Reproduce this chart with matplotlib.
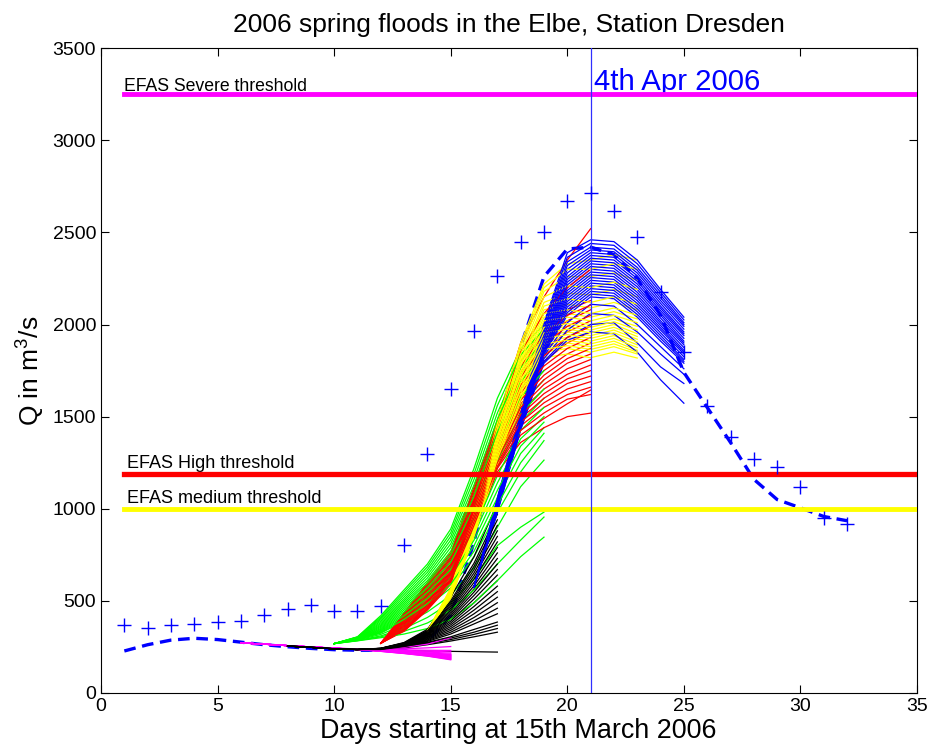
import matplotlib
matplotlib.use("Agg")
import matplotlib.pyplot as plt
import numpy as np

plt.rcParams['font.family'] = ['Liberation Sans', 'DejaVu Sans']
plt.rcParams['mathtext.default'] = 'regular'

# observed discharge (crosses), day 1..32
obs_days = list(range(1, 33))
obs_q = [369, 353, 369, 374, 385, 391, 423, 456, 477, 445, 445, 472,
         803, 1297, 1650, 1964, 2262, 2447, 2501, 2670, 2713, 2615, 2474, 2176,
         1850, 1557, 1389, 1270, 1226, 1118, 950, 917]

# simulated reference discharge (dashed), day 1..32
ref_days = list(range(1, 33))
ref_q = [228, 262, 287, 297, 290, 276, 262, 251, 242, 235, 232, 232,
         240, 280, 420, 820, 1370, 1880, 2260, 2410, 2420, 2380, 2250, 2050,
         1740, 1550, 1360, 1160, 1050, 1005, 958, 935]

# EFAS thresholds
severe_q = 3250
high_q = 1190
medium_q = 1000
forecast_day = 21

# ensemble forecasts, one row per member, 10 daily values from start day
magenta_start = 6
magenta_runs = [
    [272, 265, 257, 250, 243, 236, 226, 214, 200, 180],
    [272, 265, 257, 250, 243, 236, 227, 216, 203, 185],
    [272, 265, 257, 250, 243, 236, 228, 218, 206, 190],
    [272, 265, 257, 250, 243, 236, 229, 220, 209, 195],
    [272, 265, 257, 250, 243, 236, 230, 222, 212, 200],
    [272, 265, 257, 250, 243, 236, 231, 224, 215, 205],
    [272, 265, 257, 250, 243, 236, 232, 226, 218, 210],
    [272, 265, 257, 250, 243, 236, 233, 228, 222, 216],
    [272, 265, 257, 250, 243, 237, 234, 231, 227, 223],
    [272, 265, 257, 250, 243, 237, 236, 234, 232, 231],
    [272, 265, 257, 250, 244, 238, 238, 240, 245, 252],
    [272, 265, 257, 250, 244, 239, 241, 248, 265, 300],
    [272, 265, 257, 250, 243, 236, 226, 215, 201, 183],
    [272, 265, 257, 250, 243, 236, 228, 217, 205, 188],
    [272, 265, 257, 250, 243, 236, 229, 219, 208, 193],
    [272, 265, 257, 250, 243, 236, 230, 221, 211, 198],
    [272, 265, 257, 250, 243, 236, 231, 223, 214, 203],
    [272, 265, 257, 250, 243, 236, 232, 225, 217, 208],
]

black_start = 8
black_runs = [
    [255, 248, 240, 236, 233, 230, 228, 226, 224, 222],
    [255, 248, 240, 236, 235, 245, 262, 282, 305, 330],
    [255, 248, 240, 236, 236, 248, 267, 290, 318, 350],
    [255, 248, 240, 236, 237, 251, 272, 298, 330, 368],
    [255, 248, 240, 236, 238, 254, 280, 320, 375, 430],
    [255, 248, 240, 236, 238, 256, 288, 340, 410, 490],
    [255, 248, 240, 236, 239, 258, 296, 360, 450, 550],
    [255, 248, 240, 236, 239, 260, 303, 380, 490, 610],
    [255, 248, 240, 236, 240, 262, 310, 400, 530, 670],
    [255, 248, 240, 236, 240, 264, 316, 420, 565, 730],
    [255, 248, 240, 236, 241, 266, 322, 440, 600, 790],
    [255, 248, 240, 236, 241, 268, 328, 460, 635, 850],
    [255, 248, 240, 236, 242, 270, 334, 480, 670, 910],
    [255, 248, 240, 236, 242, 272, 340, 500, 705, 970],
    [255, 248, 240, 236, 243, 274, 346, 520, 740, 1030],
    [255, 248, 240, 236, 238, 255, 284, 330, 392, 460],
    [255, 248, 240, 236, 238, 257, 292, 350, 430, 520],
    [255, 248, 240, 236, 239, 259, 300, 370, 470, 580],
    [255, 248, 240, 236, 240, 261, 306, 390, 510, 640],
    [255, 248, 240, 236, 240, 263, 313, 410, 548, 700],
    [255, 248, 240, 236, 241, 265, 319, 430, 582, 760],
    [255, 248, 240, 236, 241, 267, 325, 450, 618, 820],
    [255, 248, 240, 236, 242, 269, 331, 470, 652, 880],
    [255, 248, 240, 236, 242, 271, 337, 490, 688, 940],
    [255, 248, 240, 236, 236, 252, 275, 305, 345, 385],
]

green_start = 10
green_runs = [
    [268, 305, 420, 560, 700, 890, 1220, 1600, 1870, 2000],
    [268, 303, 405, 535, 670, 850, 1160, 1520, 1800, 1950],
    [268, 301, 390, 510, 640, 810, 1100, 1450, 1730, 1880],
    [268, 299, 375, 490, 610, 770, 1040, 1380, 1650, 1800],
    [268, 297, 362, 470, 585, 730, 980, 1300, 1560, 1700],
    [268, 295, 350, 450, 560, 690, 920, 1220, 1470, 1600],
    [268, 293, 340, 430, 530, 650, 860, 1140, 1380, 1500],
    [268, 291, 332, 410, 500, 610, 800, 1060, 1300, 1440],
    [268, 289, 325, 390, 470, 570, 740, 980, 1200, 1370],
    [268, 287, 318, 370, 440, 530, 680, 900, 1120, 1264],
    [268, 285, 310, 350, 410, 490, 620, 800, 900, 982],
    [268, 284, 305, 335, 380, 450, 560, 700, 830, 955],
    [268, 283, 300, 320, 350, 400, 490, 610, 740, 846],
    [268, 304, 412, 548, 685, 870, 1190, 1560, 1835, 1975],
    [268, 302, 398, 522, 655, 830, 1130, 1485, 1765, 1915],
    [268, 300, 382, 500, 625, 790, 1070, 1415, 1690, 1840],
    [268, 298, 368, 480, 598, 750, 1010, 1340, 1605, 1750],
    [268, 296, 356, 460, 572, 710, 950, 1260, 1515, 1650],
    [268, 294, 345, 440, 545, 670, 890, 1180, 1425, 1550],
    [268, 292, 336, 420, 515, 630, 830, 1100, 1340, 1470],
    [268, 290, 328, 400, 485, 590, 770, 1020, 1250, 1410],
]

red_start = 12
red_runs = [
    [270, 435, 600, 760, 1120, 1480, 1900, 2150, 2350, 2520],
    [270, 425, 585, 740, 1090, 1450, 1800, 1980, 2080, 2130],
    [270, 415, 570, 720, 1060, 1420, 1740, 1920, 2020, 2080],
    [270, 405, 555, 700, 1040, 1390, 1690, 1860, 1960, 2020],
    [270, 395, 540, 690, 1020, 1360, 1650, 1800, 1900, 1960],
    [270, 385, 525, 675, 1000, 1330, 1610, 1750, 1840, 1900],
    [270, 375, 510, 660, 980, 1300, 1570, 1700, 1790, 1840],
    [270, 365, 495, 645, 960, 1280, 1530, 1650, 1730, 1780],
    [270, 355, 480, 630, 940, 1260, 1490, 1600, 1680, 1720],
    [270, 345, 465, 615, 920, 1240, 1450, 1550, 1620, 1660],
    [270, 340, 455, 600, 900, 1220, 1400, 1490, 1570, 1644],
    [270, 335, 450, 590, 880, 1200, 1360, 1440, 1500, 1519],
    [270, 430, 592, 750, 1105, 1465, 1850, 2060, 2200, 2300],
    [270, 420, 578, 730, 1075, 1435, 1770, 1950, 2050, 2105],
    [270, 410, 562, 710, 1050, 1405, 1715, 1890, 1990, 2050],
    [270, 400, 548, 695, 1030, 1375, 1670, 1830, 1930, 1990],
    [270, 390, 532, 682, 1010, 1345, 1630, 1775, 1870, 1930],
    [270, 380, 518, 668, 990, 1315, 1590, 1725, 1815, 1870],
    [270, 370, 502, 652, 970, 1290, 1550, 1675, 1760, 1810],
    [270, 360, 488, 638, 950, 1270, 1510, 1625, 1705, 1750],
    [270, 350, 472, 622, 930, 1250, 1470, 1575, 1650, 1690],
    [270, 342, 460, 608, 910, 1230, 1425, 1520, 1595, 1620],
]

yellow_start = 14
yellow_runs = [
    [335, 570, 990, 1480, 1900, 2220, 2330, 2350, 2380, 2350],
    [335, 560, 970, 1450, 1860, 2180, 2260, 2260, 2280, 2240],
    [335, 555, 955, 1420, 1820, 2120, 2170, 2160, 2190, 2150],
    [335, 550, 940, 1400, 1790, 2080, 2110, 2090, 2120, 2080],
    [335, 545, 925, 1380, 1760, 2040, 2060, 2040, 2070, 2030],
    [335, 540, 910, 1360, 1730, 2000, 2020, 2000, 2030, 1990],
    [335, 535, 900, 1340, 1700, 1970, 1990, 1970, 2000, 1950],
    [335, 530, 890, 1320, 1670, 1940, 1960, 1940, 1970, 1920],
    [335, 525, 880, 1300, 1640, 1910, 1930, 1910, 1940, 1890],
    [335, 520, 870, 1280, 1610, 1880, 1900, 1880, 1910, 1860],
    [335, 515, 860, 1260, 1580, 1850, 1870, 1850, 1880, 1840],
    [335, 510, 850, 1240, 1550, 1820, 1840, 1820, 1850, 1818],
    [335, 565, 980, 1465, 1880, 2200, 2300, 2300, 2330, 2300],
    [335, 558, 962, 1435, 1840, 2150, 2210, 2200, 2230, 2190],
    [335, 552, 948, 1410, 1805, 2100, 2140, 2120, 2150, 2110],
    [335, 548, 932, 1390, 1775, 2060, 2080, 2060, 2090, 2050],
    [335, 542, 918, 1370, 1745, 2020, 2040, 2020, 2050, 2010],
    [335, 538, 905, 1350, 1715, 1985, 2005, 1985, 2015, 1970],
    [335, 532, 895, 1330, 1685, 1955, 1975, 1955, 1985, 1935],
    [335, 528, 885, 1310, 1655, 1925, 1945, 1925, 1955, 1905],
    [335, 522, 875, 1290, 1625, 1895, 1915, 1895, 1925, 1875],
    [335, 518, 865, 1270, 1595, 1865, 1885, 1865, 1895, 1850],
]

blue_start = 16
blue_runs = [
    [575, 1060, 1520, 2010, 2390, 2460, 2450, 2350, 2190, 2040],
    [575, 1050, 1510, 1990, 2340, 2420, 2410, 2310, 2160, 2010],
    [575, 1045, 1500, 1970, 2300, 2390, 2380, 2280, 2130, 1990],
    [575, 1040, 1495, 1950, 2260, 2360, 2350, 2250, 2100, 1960],
    [575, 1035, 1490, 1930, 2230, 2330, 2320, 2220, 2075, 1940],
    [575, 1030, 1480, 1910, 2200, 2300, 2290, 2190, 2050, 1910],
    [575, 1025, 1475, 1890, 2170, 2270, 2260, 2160, 2020, 1890],
    [575, 1020, 1470, 1870, 2140, 2240, 2230, 2130, 1995, 1860],
    [575, 1015, 1460, 1860, 2110, 2210, 2200, 2100, 1970, 1840],
    [575, 1010, 1455, 1850, 2080, 2180, 2170, 2070, 1940, 1810],
    [575, 1005, 1450, 1840, 2050, 2150, 2140, 2040, 1910, 1790],
    [575, 1000, 1445, 1830, 2010, 2110, 2100, 2000, 1880, 1760],
    [575, 990, 1440, 1815, 1970, 2060, 2050, 1960, 1840, 1730],
    [575, 980, 1430, 1800, 1930, 2000, 2010, 1900, 1770, 1680],
    [575, 980, 1430, 1790, 1915, 1960, 1950, 1850, 1700, 1573],
    [575, 1055, 1515, 2000, 2365, 2440, 2430, 2330, 2175, 2025],
    [575, 1048, 1505, 1980, 2320, 2405, 2395, 2295, 2145, 2000],
    [575, 1042, 1498, 1960, 2280, 2375, 2365, 2265, 2115, 1975],
    [575, 1038, 1492, 1940, 2245, 2345, 2335, 2235, 2088, 1950],
    [575, 1032, 1485, 1920, 2215, 2315, 2305, 2205, 2062, 1925],
    [575, 1028, 1478, 1900, 2185, 2285, 2275, 2175, 2035, 1900],
    [575, 1022, 1472, 1880, 2155, 2255, 2245, 2145, 2008, 1875],
    [575, 1018, 1465, 1865, 2125, 2225, 2215, 2115, 1982, 1850],
    [575, 1012, 1458, 1855, 2095, 2195, 2185, 2085, 1955, 1825],
    [575, 1008, 1452, 1845, 2065, 2165, 2155, 2055, 1925, 1800],
]

runs = [
    (magenta_start, magenta_runs, '#ff00ff'),
    (black_start, black_runs, 'black'),
    (green_start, green_runs, '#00ff00'),
    (red_start, red_runs, '#ff0000'),
    (yellow_start, yellow_runs, '#ffff00'),
    (blue_start, blue_runs, '#0000ff'),
]

fig = plt.figure(figsize=(9.31, 7.53), dpi=100)
ax = fig.add_axes([0.1085, 0.0797, 0.8765, 0.8563])

ax.plot(ref_days, ref_q, color='#0000ff', lw=2.4, ls=(0, (3.5, 2)), zorder=2)

# members interleaved like the original loop over ensemble members
n_max = max(len(r[1]) for r in runs)
for i in range(n_max):
    for start, members, col in runs:
        if i < len(members):
            vals = members[i]
            d = np.arange(start, start + len(vals))
            ax.plot(d, vals, color=col, lw=0.9, zorder=3)

ax.plot([1, 35], [severe_q, severe_q], color='#ff00ff', lw=3.5, zorder=4)
ax.plot([1, 35], [high_q, high_q], color='#ff0000', lw=3.8, zorder=4)
ax.plot([1, 35], [medium_q, medium_q], color='#ffff00', lw=3.5, zorder=4)
ax.axvline(forecast_day, color='#3030ff', lw=0.9, zorder=5)

ax.plot(obs_days, obs_q, ls='none', marker='+', ms=10, mew=1.0,
        color='#0000ff', zorder=6)

ax.text(1.0, 3268, 'EFAS Severe threshold', fontsize=12.7, va='baseline')
ax.text(1.1, 1222, 'EFAS High threshold', fontsize=13, va='baseline')
ax.text(1.1, 1032, 'EFAS medium threshold', fontsize=13, va='baseline')
ax.text(21.15, 3272, '4th Apr 2006', fontsize=21.2, color='#0000ff',
        va='baseline')

ax.set_xlim(0, 35)
ax.set_ylim(0, 3500)
ax.set_xticks(np.arange(0, 36, 5))
ax.set_yticks(np.arange(0, 3501, 500))
ax.tick_params(direction='in', length=6, top=True, right=True,
               labelsize=14)
ax.set_title('2006 spring floods in the Elbe, Station Dresden', fontsize=19,
             pad=12)
ax.set_xlabel('Days starting at 15th March 2006', fontsize=19.4, labelpad=2)
ax.xaxis.label.set_x(0.511)
ax.set_ylabel('Q in m$^3$/s', fontsize=19, labelpad=4)

fig.savefig('out.png', dpi=100)
